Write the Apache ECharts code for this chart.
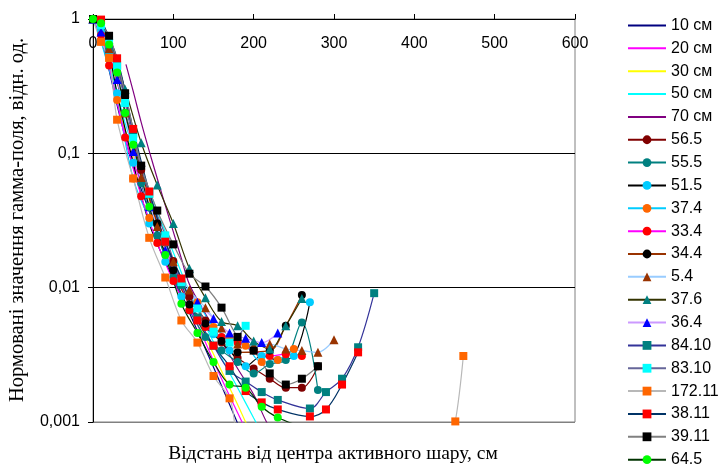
<!DOCTYPE html>
<html>
<head>
<meta charset="utf-8">
<script src="https://cdn.jsdelivr.net/npm/echarts@6/dist/echarts.min.js"></script>
<style>
html,body{margin:0;padding:0;background:#fff;}
#chart{width:722px;height:468px;}
</style>
</head>
<body>
<div id="chart"></div>
<script>
// ---- data ----
const seriesNames = ['10 см','20 см','30 см','50 см','70 см','56.5','55.5','51.5','37.4','33.4','34.4','5.4','37.6','36.4','84.10','83.10','172.11','38.11','39.11','64.5'];
const xTicks = [0,100,200,300,400,500,600];
const yTickLabels = ['0,001','0,01','0,1','1'];

const d10cm = [[0,1],[10,0.71],[20,0.417],[30,0.229],[40,0.132],[50,0.079],[60,0.054],[70,0.037],[80,0.0257],[90,0.0182],[100,0.0126],[120,0.0065],[140,0.0035],[160,0.00186],[180,0.00098],[190,0.00071]];
const d20cm = [[0,1],[10,0.73],[20,0.44],[30,0.245],[40,0.143],[50,0.088],[60,0.06],[70,0.041],[80,0.0285],[90,0.0202],[100,0.014],[120,0.0073],[140,0.0039],[160,0.0021],[180,0.00117],[190,0.00088]];
const d30cm = [[0,1],[10,0.74],[20,0.45],[30,0.255],[40,0.15],[50,0.096],[60,0.065],[70,0.045],[80,0.031],[90,0.022],[100,0.0153],[120,0.008],[140,0.0043],[160,0.0024],[180,0.00135],[190,0.001],[200,0.00075]];
const d50cm = [[0,1],[10,0.76],[20,0.48],[30,0.28],[40,0.168],[50,0.112],[60,0.076],[70,0.053],[80,0.037],[90,0.026],[100,0.0183],[120,0.0093],[140,0.0052],[160,0.003],[180,0.0018],[200,0.00107],[210,0.00083]];
const d70cm = [[41,0.46],[50,0.29],[60,0.17],[70,0.104],[80,0.065],[90,0.041],[100,0.026],[110,0.0165],[120,0.0106],[140,0.0064],[160,0.004],[180,0.0025],[200,0.0016],[216,0.001],[226,0.0008]];
const d56_5 = [[0,1],[20,0.55],[40,0.2],[60,0.075],[80,0.03],[100,0.0158],[120,0.0086],[140,0.0057],[160,0.0039],[180,0.003],[200,0.0025],[220,0.0021],[240,0.0018],[260,0.0018],[280,0.0026]];
const d55_5 = [[0,1],[20,0.6],[40,0.2],[60,0.06],[80,0.0245],[100,0.012],[120,0.0068],[140,0.0043],[160,0.0034],[180,0.0028],[200,0.0023],[220,0.0027],[240,0.0029],[260,0.0055],[280,0.00173]];
const d51_5 = [[0,1],[10,0.8],[20,0.55],[30,0.28],[50,0.085],[70,0.03],[90,0.0156],[110,0.0086],[130,0.0058],[150,0.0045],[170,0.0034],[190,0.0026],[210,0.0031],[230,0.0029],[250,0.0031],[270,0.0078]];
const d37_4 = [[0,1],[10,0.68],[30,0.25],[50,0.065],[70,0.033],[90,0.0217],[110,0.011],[130,0.0078],[150,0.0051],[170,0.0042],[190,0.0037],[210,0.0028],[230,0.0029],[250,0.0035]];
const d33_4 = [[0,1],[10,0.76],[20,0.45],[40,0.131],[60,0.048],[80,0.0215],[100,0.0112],[120,0.0068],[140,0.0051],[160,0.0043],[180,0.0039],[200,0.0034],[220,0.0031],[240,0.0032],[260,0.0031]];
const d34_4 = [[0,1],[20,0.7],[40,0.26],[60,0.08],[80,0.03],[100,0.0135],[120,0.0075],[140,0.0054],[160,0.004],[180,0.0033],[220,0.0034],[240,0.0052],[260,0.0088]];
const d5_4 = [[0,1],[20,0.6],[40,0.2],[60,0.066],[80,0.0285],[100,0.0156],[120,0.0096],[140,0.0071],[160,0.005],[180,0.0038],[200,0.0037],[220,0.0038],[240,0.0035],[260,0.0034],[280,0.0033],[300,0.0041]];
const d37_6 = [[0,1],[20,0.7],[40,0.3],[60,0.12],[80,0.058],[100,0.03],[120,0.0139],[140,0.0084],[160,0.0056],[180,0.0052],[200,0.004],[220,0.0035],[240,0.0052],[260,0.0083]];
const d36_4 = [[0,1],[10,0.8],[30,0.354],[50,0.103],[70,0.04],[90,0.019],[110,0.011],[130,0.0078],[150,0.0059],[170,0.0046],[190,0.0042],[210,0.0039],[230,0.0046]];
const d84_10 = [[10,0.97],[30,0.45],[50,0.14],[70,0.05],[90,0.022],[110,0.0105],[130,0.006],[150,0.0037],[170,0.0024],[190,0.002],[210,0.00167],[230,0.00146],[270,0.00126],[290,0.00167],[310,0.0021],[330,0.0036],[350,0.0091]];
const d83_10 = [[0,1],[10,0.9],[20,0.7],[30,0.445],[40,0.237],[50,0.13],[70,0.05],[90,0.0245],[110,0.011],[130,0.007],[150,0.0047],[170,0.0039],[190,0.0052]];
const d172_11 = [[0,1],[10,0.676],[20,0.513],[30,0.178],[50,0.065],[70,0.0235],[90,0.0119],[110,0.0057],[130,0.0039],[150,0.0022],[170,0.0015],[190,0.0007],[440,0.0006],[451,0.00101],[461,0.0031]];
const d38_11 = [[10,0.99],[30,0.51],[50,0.152],[70,0.052],[90,0.022],[110,0.0117],[130,0.0057],[150,0.0037],[170,0.0026],[190,0.0017],[210,0.0014],[230,0.00124],[270,0.0011],[290,0.00124],[310,0.0019],[330,0.0033]];
const d39_11 = [[0,1],[20,0.75],[40,0.28],[60,0.081],[80,0.0375],[100,0.021],[120,0.0127],[140,0.0102],[160,0.0071],[180,0.0043],[200,0.0034],[220,0.0023],[240,0.0019],[260,0.0021],[280,0.0026]];
const d64_5 = [[0,1],[10,0.93],[20,0.645],[30,0.4],[40,0.2],[50,0.116],[70,0.04],[90,0.0175],[110,0.0076],[130,0.0046],[150,0.0028],[170,0.0019],[190,0.0018],[210,0.0013],[230,0.00108],[260,0.00092]];

const seriesData = [d10cm,d20cm,d30cm,d50cm,d70cm,d56_5,d55_5,d51_5,d37_4,d33_4,d34_4,d5_4,d37_6,d36_4,d84_10,d83_10,d172_11,d38_11,d39_11,d64_5];

// ---- styles ----
const looks = [
  {line:'#000080', sym:'none'},
  {line:'#FF00FF', sym:'none'},
  {line:'#FFFF00', sym:'none'},
  {line:'#00FFFF', sym:'none'},
  {line:'#800080', sym:'none'},
  {line:'#800000', sym:'circle', fill:'#800000'},
  {line:'#008080', sym:'circle', fill:'#008080'},
  {line:'#000000', sym:'circle', fill:'#00CCFF'},
  {line:'#00CCFF', sym:'circle', fill:'#FF6600'},
  {line:'#FF00FF', sym:'circle', fill:'#FF0000'},
  {line:'#993300', sym:'circle', fill:'#000000'},
  {line:'#99CCFF', sym:'triangle', fill:'#993300'},
  {line:'#333300', sym:'triangle', fill:'#008080'},
  {line:'#CC99FF', sym:'triangle', fill:'#0000FF'},
  {line:'#333399', sym:'rect', fill:'#008080'},
  {line:'#666699', sym:'rect', fill:'#00FFFF'},
  {line:'#B8B8B8', sym:'rect', fill:'#FF6600'},
  {line:'#003366', sym:'rect', fill:'#FF0000'},
  {line:'#808080', sym:'rect', fill:'#000000'},
  {line:'#003300', sym:'circle', fill:'#00FF00'}
];

const series = seriesNames.map((name, i) => {
  const lk = looks[i];
  return {
    name: name,
    type: 'line',
    data: seriesData[i],
    smooth: 0.35,
    clip: true,
    symbol: lk.sym,
    showSymbol: lk.sym !== 'none',
    symbolSize: lk.sym === 'triangle' ? 9 : 8,
    lineStyle: {color: lk.line, width: 1.2},
    itemStyle: {color: lk.fill || lk.line, borderWidth: 0},
    emphasis: {disabled: true}
  };
});

const legendData = seriesNames.map((name, i) => (
  looks[i].sym === 'none' ? {name: name, itemStyle: {opacity: 0}} : {name: name}
));

const chart = echarts.init(document.getElementById('chart'), null, {renderer: 'canvas'});
chart.setOption({
  animation: false,
  backgroundColor: '#ffffff',
  grid: {left: 93, right: 147, top: 19, bottom: 46, show: true, borderColor: '#808080', borderWidth: 1, containLabel: false},
  xAxis: {
    type: 'value', position: 'top', min: xTicks[0], max: xTicks[xTicks.length-1], interval: 100,
    axisLine: {show: true, onZero: false, lineStyle: {color: '#000', width: 1}},
    axisTick: {show: true, length: 5, lineStyle: {color: '#000'}},
    axisLabel: {inside: true, margin: 17, color: '#000', fontSize: 16, fontFamily: 'Liberation Sans',
      formatter: v => String(v)},
    splitLine: {show: false}
  },
  yAxis: {
    type: 'log', logBase: 10, min: 0.001, max: 1,
    axisLine: {show: true, lineStyle: {color: '#000', width: 1}},
    axisTick: {show: true, length: 5, lineStyle: {color: '#000'}},
    minorTick: {show: false},
    axisLabel: {margin: 13, color: '#000', fontSize: 16, fontFamily: 'Liberation Sans',
      formatter: v => yTickLabels[Math.round(Math.log10(v)) + 3]},
    splitLine: {show: true, lineStyle: {color: ['#808080', '#000000', '#000000', '#000000'], width: 1}}
  },
  legend: {
    orient: 'vertical', left: 627, top: 17.5, padding: 0,
    itemWidth: 38, itemHeight: 11, itemGap: 6.85,
    textStyle: {fontSize: 16, lineHeight: 16, fontFamily: 'Liberation Sans', color: '#000'},
    data: legendData
  },
  graphic: [
    {type: 'text', x: 17.5, y: 220, rotation: Math.PI / 2,
      style: {text: 'Нормовані значення гамма-поля, відн. од.', font: '20.5px "Liberation Serif"', fill: '#000',
        align: 'center', verticalAlign: 'middle', textAlign: 'center', textVerticalAlign: 'middle'}},
    {type: 'text', x: 333, y: 454,
      style: {text: 'Відстань від центра активного шару, см', font: '19.5px "Liberation Serif"', fill: '#000',
        align: 'center', verticalAlign: 'middle', textAlign: 'center', textVerticalAlign: 'middle'}}
  ],
  series: series
});
</script>
</body>
</html>
